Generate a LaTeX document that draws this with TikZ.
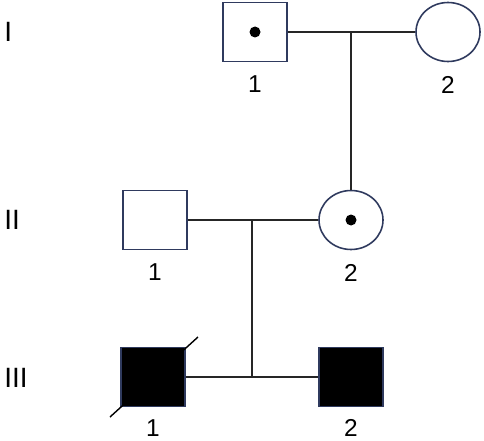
\documentclass[tikz,border=0pt]{standalone}
\usepackage{fontspec}
\setmainfont{Liberation Sans}
\usetikzlibrary{positioning,shapes.geometric}
\definecolor{pedline}{RGB}{47,58,94}
\tikzset{
  male/.style={draw=pedline,line width=0.9pt,rectangle,minimum width=1.28cm,minimum height=1.18cm,inner sep=0pt},
  female/.style={draw=pedline,line width=0.9pt,ellipse,minimum width=1.28cm,minimum height=1.18cm,inner sep=0pt},
  affected/.style={fill=black},
  idnum/.style={font=\fontsize{13.9}{15}\selectfont,inner sep=0pt},
  gen/.style={font=\fontsize{15.9}{18}\selectfont,inner sep=0pt,anchor=west},
  link/.style={draw=black!85,line width=0.8pt},
}
\begin{document}
\begin{tikzpicture}[x=1cm,y=1cm]
    \useasboundingbox (0,0) rectangle (9.68,8.8);
    % generations
    \node[gen] (gI) at (0.08,8.16) {I};
    \node[gen] (gII) at (0.08,4.40) {II};
    \node[gen] (gIII) at (0.08,1.24) {III};
    % individuals
    \node[male] (i1) at (5.10,8.16) {};
    \node[female] (i2) at (8.96,8.16) {};
    \node[male] (ii1) at (3.10,4.40) {};
    \node[female] (ii2) at (7.02,4.40) {};
    \node[male,affected] (iii1) at (3.06,1.26) {};
    \node[male,affected] (iii2) at (7.02,1.26) {};
    % carriers
    \fill (i1.center) circle (0.11);
    \fill (ii2.center) circle (0.11);
    % deceased
    \draw[black,line width=0.8pt] ([shift={(-0.86,-0.80)}]iii1.center) -- ([shift={(0.90,0.80)}]iii1.center);
    % numbers
    \node[idnum,below=0.27cm of i1] (i1n) {1};
    \node[idnum,below=0.27cm of i2] (i2n) {2};
    \node[idnum,below=0.27cm of ii1] (ii1n) {1};
    \node[idnum,below=0.27cm of ii2] (ii2n) {2};
    \node[idnum,below=0.24cm of iii1] (iii1n) {1};
    \node[idnum,below=0.24cm of iii2] (iii2n) {2};
    % matings and descent
    \coordinate (m1) at (7.02,8.16);
    \coordinate (m2) at (5.04,4.40);
    \draw[link] (i1) -- (i2);
    \draw[link] (m1) -- (ii2);
    \draw[link] (ii1) -- (ii2);
    \draw[link] (iii1) -- (iii2);
    \draw[link] (m2) -- (m2 |- iii1);
\end{tikzpicture}
\end{document}
